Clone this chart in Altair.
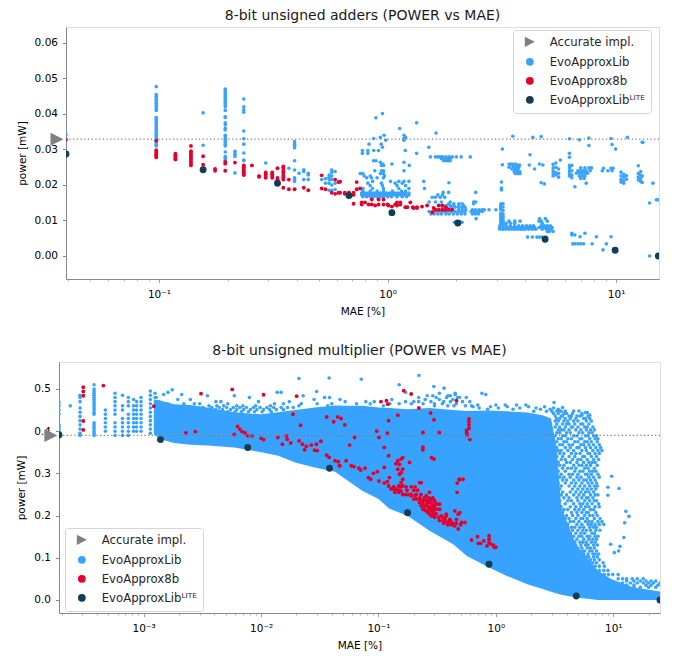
import altair as alt
import pandas as pd

BLUE, RED, NAVY, GRAY = "#38a3ff", "#e4002b", "#133c55", "#808080"
SERIES = ["Accurate impl.", "EvoApproxLib", "EvoApprox8b", "EvoApproxLibᴸᴵᵀᴱ"]

# ---------- adders: (MAE, [powers]) columns and (power, [MAEs]) rows ----------
ADD_BLUE_COLS = [
 (0.0392,[.0342]),
 (0.0973,[.0477,.0455,.045,.0445,.044,.0435,.043,.0425,.042,.0415,.041,.039,.0385,.038,.0375,.037,.0365,.036,.0355,.035,.0345,.034,.0335,.033,.0325,.032,.0315,.031,.0285]),
 (0.156,[.0403,.0312]),
 (0.195,[.047,.0465,.046,.0455,.045,.0445,.044,.0435,.043,.0425,.042,.041,.0392,.039,.0375,.037,.036,.0355,.034,.0335,.033,.0325,.032,.0315,.031,.0293,.028,.0275,.027]),
 (0.215,[.0295,.029,.0285,.028,.0234]),
 (0.235,[.0442,.042,.0412,.0405,.0352,.033,.0315,.029,.027,.0268]),
 (0.293,[.0262]), (0.37,[.0247]),
 (0.392,[.0322,.0315,.031,.0305,.0268,.0242,.022,.0215,.021]),
 (0.41,[.0233]), (0.43,[.0243,.0238,.0215]), (0.45,[.0233,.0228,.0215]),
 (0.515,[.0215]), (0.535,[.0218,.0205]), (0.555,[.0228,.0222,.0215,.0205,.0185]),
 (0.57,[.0242,.0235,.0225,.0215,.02,.0185]), (0.59,[.0238,.0205,.0187]),
 (3.13,[.0147,.0142,.0138,.0134,.013,.012,.0115,.011,.0105,.01,.0095,.009]),
 (3.2,[.0147,.0138,.0128,.0118,.0112,.0105,.0098,.009]),
 (3.15,[.0208,.0191,.0186]), (3.18,[.0257,.0301]), (3.53,[.0337]),
 (6.25,[.033,.0289,.0278,.0255,.0248,.024,.0232,.0225]), (6.4,[.0255,.024,.0228,.022]),
 (5.3,[.0258,.0248,.024,.0232,.0225]), (5.45,[.0262,.025,.0235,.0228]), (5.6,[.0245,.0232,.0222]),
 (10.5,[.0236,.0225,.0215,.0208]), (10.8,[.023,.0222,.0212,.0205]), (11.1,[.0226,.0216]),
 (12.5,[.0254,.0232,.0222,.0214]), (12.8,[.0238,.0228,.0218,.021]), (13,[.0225,.0207]),
]
ADD_BLUE_ROWS = [
 (.0401,[.95]),(.0389,[.889]),(.0375,[1.34]),(.0359,[1.13]),(.0346,[1.63]),
 (.034,[.966,1.18]),(.0334,[.93,1.2]),(.0331,[.87,1.18]),(.0326,[.983,1.18]),
 (.0315,[.938,.83]),(.0306,[.95,1.515]),(.0297,[.776,.82,.87,.913,1.196]),
 (.0289,[.776,.82,1.34]),(.0268,[.868,.89]),(.0264,[.93,1.18]),(.0259,[1.045,.95]),
 (.0255,[.94,.96,1.245]),(.024,[.88,1.18,.96,.94]),(.0232,[.76,.78,.93,.96]),
 (.0225,[.79,.84,.97]),(.022,[.81,.85,.9,.96]),(.021,[.86,1.03,1.12,1.18,1.24,1.44]),
 (.0205,[.82,.94,1.08,1.16]),(.0198,[.84,.95,1.1,1.2]),
 (.019,[.78,.86,.96,1.12,1.24,1.45]),
 (.0183,[.78,.84,.9,.96,1.05,1.15,1.2]),
 (.0177,[.77,.79,.81,.83,.85,.87,.89,.91,.93,.95,.97,.99,1.02,1.05,1.08,1.11,1.14,1.17,1.2,1.24]),
 (.0172,[.77,.79,.81,.83,.85,.87,.89,.91,.93,.95,.97,.99,1.02,1.05,1.08,1.11,1.14,1.17,1.2,1.24]),
 (.0167,[.78,.81,.84,.87,.9,.93,.96,1.0,1.04,1.1,1.16,1.21]),
 (.0206,[1.855]),(.0179,[2.43,1.75,1.85]),(.0172,[1.66,1.74]),(.0165,[1.567,1.62,1.7,1.78]),
 (.0152,[1.52,1.62,1.72,1.88,2.38,2.43]),(.0147,[1.85,1.95,2.05,2.12,2.38]),
 (.0142,[1.75,1.8,1.88,1.95,2.05,2.15]),
 (.0137,[1.75,1.82,1.9,1.98,2.05,2.12,2.18]),
 (.013,[2.05,2.12,2.2,2.35,2.43,2.52,2.6,2.65,2.78,2.98]),
 (.0125,[1.52,1.58,1.64,1.7,1.76,1.82,1.9,1.98,2.05,2.12,2.18,2.32,2.38,2.45,2.52,2.6]),
 (.0118,[1.55,1.6,1.66,1.72,1.8,1.86,1.94,2.02,2.1,2.18,2.35,2.42,2.5]),
 (.0105,[2.44]),(.0095,[1.96,2.0,2.08,2.12]),
 (.0279,[1.54,1.62,1.66,1.7,1.74,1.8,1.86,1.92,2.0,2.1,2.3]),
 (.0274,[1.72,1.76,1.8,1.84,1.88]),(.0268,[1.76,1.8,1.84,1.88]),
 (.0285,[4.2]),(.0259,[3.4,3.5,3.62,4.62]),(.0256,[3.45,3.55,3.7,3.78,4.17,4.78]),
 (.025,[3.4,3.55,3.65,3.75]),(.0245,[3.5,3.62,3.72,4.4]),(.0238,[3.58,3.68,3.78]),
 (.0232,[3.62,3.72,3.8]),(.0334,[4.32]),(.0336,[4.7]),(.0206,[4.7]),(.0203,[4.85]),
 (.0105,[4.62,4.9]),(.0098,[3.4,3.6,3.8,4.6,4.7,5.0]),(.0092,[3.2,3.3,3.45,3.6,4.75]),
 (.0085,[3.1,3.2,3.3,3.45,3.6,3.75,3.9,4.05,4.2,4.35,4.7,4.85,5.0,5.15]),
 (.008,[3.1,3.2,3.3,3.4,3.5,3.6,3.7,3.8,3.9,4.0,4.1,4.2,4.3,4.4,4.6,4.75,4.9,5.05,5.25]),
 (.0075,[3.1,3.2,3.3,3.4,3.5,3.6,3.7,3.8,3.9,4.0,4.15,4.3,4.45,4.75,4.95,5.1,5.2]),
 (.0069,[5.0,5.1,5.3]),(.0053,[4.1,4.3,4.5,4.62,4.75,4.9]),
 (.0327,[6.9]),(.0332,[7.6]),(.0311,[7.6]),(.027,[5.7]),(.0195,[6.6]),(.0205,[7.4,14.5]),
 (.0248,[7.0,7.3,7.6,7.8]),(.024,[6.8,7.0,7.2,7.4,7.7]),(.0233,[6.7,6.9,7.1,7.3,7.5]),
 (.0225,[6.9,7.1,7.3]),(.0218,[7.0,7.25]),
 (.0247,[8.8,9.5,9.7]),(.024,[8.7,9.2,9.6]),(.0331,[9.5]),(.0314,[9.6]),(.0301,[9.95]),
 (.0334,[11.2]),(.032,[13,13.1]),(.0149,[14]),(.0158,[15.3,15.0]),(.0,[14]),
 (.0034,[6.46,6.6,6.8,7.0,7.2,7.85,9.06]),(.0059,[6.4,6.6]),(.0054,[6.95,8.2,9.5]),
 (.0064,[6.4,7.3]),(.0017,[8.76]),
]
ADD_RED_COLS = [
 (0.0392,[.0328]),
 (0.0973,[.0325,.0298,.0293,.0288,.0283,.0278]),
 (0.118,[.0288,.0283,.028,.0275,.0272]),
 (0.138,[.031,.0295,.029,.0285,.028,.0275,.027,.0265,.026,.0255]),
 (0.156,[.0281,.0257]), (0.176,[.0245,.024]), (0.195,[.0265,.026,.024]), (0.215,[.0263]),
 (0.235,[.0255,.025,.0245,.024,.0235,.023,.0228]), (0.255,[.0255]), (0.274,[.0225,.0223]),
 (0.293,[.0235,.023,.0225,.022]), (0.313,[.0235,.023,.0225,.022]), (0.33,[.0247,.022,.0215]),
 (0.35,[.0252,.0248,.024,.0235,.0228,.0222,.0215,.0192]), (0.37,[.0215,.0188]), (0.392,[.0188]),
 (0.43,[.0192]), (0.45,[.0185]), (0.515,[.0227,.019]), (0.535,[.0188]), (0.57,[.0178]),
 (0.59,[.0215,.0175]), (0.61,[.0178,.0208]), (0.62,[.0209,.0178]), (0.65,[.0175,.0178]),
 (0.678,[.0179]), (0.71,[.0178,.0172,.0147]), (0.733,[.0208,.0188]), (0.758,[.019]),
]
ADD_RED_ROWS = [
 (.0159,[.853,.913,.96]),(.0151,[.771,.797,1.1,1.137]),
 (.0145,[.771,.825,.853,.913,.96,1.0,1.08,1.137]),(.0142,[.882,1.01,1.1,1.49]),
 (.0139,[1.045,1.415]),(.0137,[1.196,1.22,1.29,1.345]),(.0135,[1.3,1.345]),
 (.0151,[1.258]),(.0142,[1.673,1.733]),(.0137,[1.8]),
 (.013,[1.62,1.675,1.733,1.794,1.855,1.92]),(.0135,[1.59]),(.0123,[1.57]),
]
ADD_NAVY = ([.0392,.156,.33,.678,1.045,2.03,4.89,9.9,15.3],[.0287,.0243,.0205,.017,.0122,.0093,.0047,.0016,0.0])

# ---------- multiplier ----------
MUL_MASS_MAE = [.00122,.0014,.00181,.0025,.0035,.0059,.01,.014,.0195,.0286,.0427,.056,.0727,.1,.123,.178,.272,.433,.566,.876,1.24,1.85,2.5,2.95,3.3,3.6,4.84,7.4,9.5,14.7,25]
MUL_MASS_LOW = [.392,.381,.372,.368,.366,.3615,.35,.342,.326,.314,.304,.281,.259,.239,.217,.199,.164,.132,.104,.0767,.057,.037,.026,.0195,.0155,.012,.0055,0,0,0,0]
MUL_MASS_TOP = [.475,.472,.464,.462,.456,.445,.44,.445,.45,.456,.461,.46,.46,.456,.455,.452,.455,.45,.448,.449,.447,.444,.438,.43,.36,.22,.13,.07,.05,.03,.02]
MUL_BLUE_COLS = [
 (.00019,[.468,.46,.45,.44,.415,.41,.405,.40,.395]), (.000237,[.46]),
 (.000287,[.485,.48,.47,.455,.445,.435,.425,.415,.405,.395,.39]),
 (.000378,[.51,.5,.495,.49,.485,.48,.475,.47,.465,.46,.455,.45,.445,.44,.42,.415,.41,.405,.40,.395,.39]),
 (.000472,[.45,.44,.43,.42,.41,.40]),
 (.00057,[.49,.48,.47,.46,.45,.44,.42,.41,.40,.39]),
 (.00066,[.485,.46,.45,.43,.42,.41,.40,.39]),
 (.00074,[.48,.47,.46,.44,.43,.42,.41,.40,.39]),
 (.00082,[.475,.46,.45,.44,.43,.42,.41,.40]),
 (.00087,[.47,.46,.45,.44,.43,.42,.41,.40]),
 (.00095,[.48,.47,.46,.45,.44,.43,.42,.41,.40]),
 (.00114,[.495,.485,.475,.465,.455,.445,.435,.425,.415,.405,.395]),
 (.00125,[.49,.48]),
]
MUL_BLUE_ROWS = [
 (.532,[.221]),(.526,[.038]),(.525,[.021]),(.523,[.0714]),(.51,[.15]),(.506,[.296]),(.502,[.362]),
 (.498,[.00175]),(.494,[.0297]),(.492,[.00161,.17,.0137,.0148]),(.49,[.33,.45,.76]),
 (.487,[.00211,.00148,.45,.82]),(.484,[.00349,.00592,.0228,.26,.29,.39,.41]),
 (.48,[.00128,.00795,.0347,.0383,.22,.31,.38,.47,.49,.56]),
 (.475,[.00195,.0025,.0283,.13,.047,.25,.33,.43]),
 (.47,[.00135,.00412,.00455,.0174,.0095,.052,.078,.092,.17,.2,.22,.28,.36,.41,.52,.6]),
 (.465,[.0016,.0022,.0027,.003,.0052,.013,.0155,.022,.03,.04,.065,.085,.125,.15,.19,.24,.3,.35,.46]),
 (.46,[.0036,.0042,.0048,.0062,.007,.009,.012,.021,.037,.11,.3,.39,.44,.55,.62]),
 (.456,[.0032,.0038,.0044,.0051,.0058,.0066,.0075,.0086,.0098,.0112,.0128,.0148,.0168,.0188]),
 (.451,[.0041,.0047,.0055,.0062,.0071,.0081,.0092,.0105,.0118,.0135,.0155]),
 (.446,[.0052,.006,.0068,.0078,.0088,.0102,.0122]),
 (.462,[.7,1.0,1.2,1.5,1.8]),(.458,[.64,.9,1.25,1.9,2.6]),(.455,[.72,1.05,1.6,2.2,3.1]),
 (.452,[.85,1.4,2.4,2.9,3.4]),(.447,[2.1,2.7,3.0,3.6]),
 (.468,[3.13]),(.456,[3.7]),(.444,[5.8,6.0]),(.438,[5.4,6.3]),
 (.448,[3.3,3.5,3.9,4.6,5.1]),(.442,[3.1,3.4,3.8,4.0,4.5,5.4]),
 (.436,[3.2,3.6,3.7,4.2,4.4,4.9,5.2,6.1]),(.43,[3.3,3.5,3.9,4.3,4.8,5.6,5.8,6.3]),
 (.424,[3.2,3.4,3.8,4.1,4.6,5.0,5.9,6.5]),(.417,[3.3,3.7,4.0,4.2,4.7,5.3,5.5,6.2]),
 (.41,[3.2,3.5,3.9,4.4,4.5,5.0,5.7,6.0,6.7]),(.403,[3.4,3.6,3.8,4.2,4.8,5.3,5.9,6.4,6.9]),
 (.396,[3.3,3.5,4.0,4.3,5.1,5.5,6.2,6.6]),(.389,[3.2,3.7,3.9,4.6,4.9,5.8,6.1,6.8,7.2]),
 (.382,[3.4,3.6,4.1,4.4,5.2,5.4,6.3,7.0,7.4]),(.375,[3.3,3.8,4.0,4.7,5.0,5.7,6.0,6.5,7.3]),
 (.368,[3.5,3.7,4.2,4.5,5.3,5.6,6.2,6.8,7.6]),(.361,[3.3,3.9,4.3,4.9,5.1,5.8,6.4,7.1,7.8]),
 (.354,[3.4,3.6,4.1,4.6,5.4,5.9,6.7,7.4,8.0]),(.347,[3.5,3.8,4.4,4.8,5.2,6.1,6.3,7.0,7.6]),
 (.34,[3.3,3.7,4.2,4.7,5.5,5.7,6.5,7.2]),(.333,[3.6,3.9,4.5,5.0,5.3,6.0,6.8,7.5]),
 (.326,[3.4,4.0,4.3,4.9,5.6,6.2,6.6,7.0]),(.319,[3.5,3.8,4.6,5.1,5.4,5.9,6.4,7.3]),
 (.312,[3.7,4.1,4.4,4.8,5.7,6.1,6.9]),(.305,[3.4,3.9,4.7,5.2,5.5,6.3,6.7,7.1]),
 (.298,[3.6,4.2,4.5,5.0,5.8,6.0,6.5,7.4]),(.291,[3.5,3.8,4.3,4.9,5.3,6.2,6.8,7.6]),
 (.284,[3.7,4.0,4.6,5.1,5.6,5.9,6.4,7.0]),(.277,[3.4,3.9,4.4,4.8,5.4,6.1,6.6,7.2]),
 (.27,[3.6,4.2,4.7,5.2,5.7,6.3,6.9,7.3]),(.263,[3.5,4.5,5.0,5.5,6.0,6.5,7.1]),
 (.256,[3.7,4.3,4.8,5.3,5.8,6.2,6.8]),(.249,[3.6,4.0,4.6,5.1,5.6,6.4,7.0,7.4]),
 (.242,[3.8,4.2,4.9,5.4,5.9,6.1,6.7]),(.235,[3.5,4.1,4.4,5.0,5.7,6.3,6.9,7.2]),
 (.228,[3.9,4.6,5.2,5.5,6.0,6.6,7.5]),(.221,[3.6,4.3,4.8,5.3,5.8,6.2,7.0,7.6]),
 (.214,[3.8,4.1,4.7,5.1,5.6,6.4,6.8]),(.207,[3.7,4.4,4.9,5.4,5.9,6.1,7.1]),
 (.2,[3.6,4.0,4.5,5.0,5.7,6.3,6.7,7.3]),(.193,[3.9,4.2,4.8,5.3,5.5,6.0,6.9,7.7]),
 (.186,[3.7,4.3,4.6,5.1,5.8,6.2,6.6,7.4,8.0]),(.179,[3.8,4.1,4.9,5.4,6.1,6.5,7.0,7.6,8.3]),
 (.172,[3.9,4.4,4.7,5.2,5.6,6.3,6.8,7.2]),(.165,[4.0,4.5,5.0,5.5,5.9,6.4,7.1,7.7]),
 (.158,[3.9,4.3,4.8,5.3,5.7,6.6,6.9]),(.151,[4.1,4.6,5.1,5.4,6.0,6.3,7.0,7.4]),
 (.144,[4.0,4.4,4.9,5.6,6.2,6.7,7.2]),(.137,[4.2,4.7,5.2,5.5,5.9,6.5,7.0]),
 (.13,[4.4,4.8,5.3,5.8,6.1,6.8,7.3]),(.123,[4.6,5.0,5.4,6.0,6.4,6.9]),
 (.116,[5.1,5.5,5.7,6.3,6.6,7.2]),(.109,[5.2,5.6,6.1,6.7,7.0,7.5]),
 (.102,[5.4,5.9,6.2,6.8,7.3]),(.095,[5.8,6.4,6.9,7.6]),(.088,[6.3,6.7,7.2,8.2]),
 (.08,[7.0,7.6,8.4]),(.07,[7.6,8.3,9.0]),(.06,[8.4,9.1,9.9,11]),
 (.05,[11,12,13,14.5,16,18]),(.045,[13,15,17,19,21,23]),(.04,[12,14,16,18,20,22,25]),
 (.035,[11,13,15,19,21,24]),(.03,[15,17,20,23]),
 (.21,[12.8]),(.198,[13.6]),(.183,[12.5]),(.148,[12.3]),(.127,[11.4]),(.132,[9.5]),
 (.112,[10.2]),(.116,[11.1]),(.293,[9.7]),(.264,[11.2]),(.267,[9.0]),(.248,[9.0]),
]
MUL_RED_COLS = [
 (.000306,[.504,.494,.484,.424,.403]), (.59,[.429,.422,.415,.407]), (.563,[.402,.396]),
 (.57,[.391]), (.6,[.38]), (.875,[.152,.144,.136]), (.239,[.362,.356,.397]),
]
MUL_RED_ROWS = [
 (.508,[.000454]),(.459,[.00122]),(.396,[.00229,.0073]),(.399,[.00276,.0069]),(.489,[.00308]),
 (.499,[.00568]),(.392,[.0059]),(.411,[.00631]),(.405,[.00658]),(.389,[.0077,.0084,.0164]),
 (.383,[.01]),(.38,[.0105]),(.4865,[.0105]),(.385,[.0139,.0626,.101]),(.369,[.0152,.0225,.0296]),
 (.381,[.0167]),(.372,[.0179]),(.44,[.0187]),(.483,[.0201]),(.414,[.0217]),(.377,[.0211]),
 (.356,[.0235]),(.364,[.0243]),(.367,[.0268,.0567]),(.355,[.0286]),(.354,[.0301]),(.376,[.0323]),
 (.4335,[.0362,.045]),(.343,[.0362]),(.338,[.038]),(.4225,[.0415]),(.33,[.0427,.053]),
 (.3275,[.0455]),(.43,[.048]),(.318,[.0465,.0468,.0586]),(.415,[.0517]),(.316,[.0618]),
 (.312,[.0682]),(.308,[.0705]),(.3125,[.0768]),(.29,[.082]),(.286,[.0859]),(.3,[.0906]),
 (.4,[.0967]),(.304,[.098]),(.282,[.101]),(.47,[.105]),(.3615,[.112]),(.314,[.112]),(.277,[.112]),
 (.472,[.117,.462]),(.464,[.12]),(.425,[.122]),(.3955,[.119]),(.342,[.122]),
 (.28,[.119]),(.29,[.124]),(.27,[.122,.149,.161]),(.263,[.128,.135,.141]),(.255,[.138,.149,.468]),
 (.438,[.146]),(.323,[.141]),(.33,[.146]),(.334,[.156,.297]),(.337,[.161,.283]),(.321,[.151]),
 (.31,[.146]),(.298,[.151]),(.302,[.156]),(.31,[.161]),(.326,[.184]),
 (.278,[.156,.224]),(.286,[.161,.488]),(.258,[.156]),(.25,[.161,.168,.178]),(.247,[.19]),
 (.278,[.231]),(.239,[.2,.224,.211]),(.247,[.205]),(.496,[.164]),(.488,[.19]),(.455,[.221]),
 (.443,[.278]),(.427,[.297]),(.397,[.33]),
 (.231,[.224,.264]),(.223,[.231,.255,.291]),(.235,[.239,.301]),(.215,[.239,.282,.311,.332]),
 (.247,[.255]),(.255,[.272]),(.219,[.272]),(.239,[.282]),(.207,[.264]),(.227,[.321,.332]),
 (.203,[.301,.378]),(.199,[.282,.343]),(.1875,[.355]),(.195,[.367]),(.199,[.378]),
 (.1835,[.392]),(.191,[.405]),(.18,[.418]),(.1755,[.447]),(.168,[.478]),(.211,[.447]),
 (.203,[.478]),(.191,[.462]),(.1835,[.51]),(.1835,[.545]),(.207,[.494]),
 (.277,[.468]),(.285,[.488]),(.286,[.525]),
 (.142,[.62]),(.15,[.698]),(.134,[.71,.74]),(.14,[.79]),(.128,[.84]),(.133,[.9]),(.13,[.95]),
 (.125,[.97,1.0]),
 (.242,[.225,.245,.268,.29]),(.236,[.255,.275,.296]),(.228,[.24,.26,.282,.305]),
 (.22,[.245,.268,.3]),(.212,[.25,.262,.278,.295]),(.204,[.27,.288,.31]),(.196,[.3,.325,.35]),
 (.188,[.33,.37,.41]),(.182,[.36,.43,.46]),(.178,[.39,.42,.5]),
 (.268,[.135,.155,.172,.19,.205]),(.26,[.15,.175,.2,.215]),(.25,[.19,.21,.23]),
]
MUL_NAVY = ([.00019,.00139,.0077,.0383,.177,.874,4.84,25],[.391,.38,.3615,.312,.2065,.0847,.0095,0.0])

ADD_REF_POWER, MUL_REF_POWER = 0.0329, 0.39
ADD_REF_MARK_MAE, MUL_REF_MARK_MAE = 0.0358, 0.000162
MARK_SIZES = [100, 13, 15, 48]
TRIANGLE = "M-1.3,-1.3L1.3,0L-1.3,1.3Z"


def expand(cols, rows, name):
    out = []
    for m, ps in cols:
        out += [{"mae": m, "power": p, "s": name} for p in ps]
    for p, ms in rows:
        out += [{"mae": m, "power": p, "s": name} for m in ms]
    return out


def panel(title, df, ref, xdom, ydom, w, h, xvals, yvals, yfmt, lx, ly, mass=None):
    x_scale = alt.Scale(type="log", domain=xdom, nice=False)
    y_scale = alt.Scale(domain=ydom, nice=False, zero=False)
    major = "datum.value==0.001||datum.value==0.01||datum.value==0.1||datum.value==1||datum.value==10"
    x_axis = alt.Axis(
        title="MAE [%]", values=xvals, labelOverlap=False, labelBound=False, labelFlush=False, grid=False,
        titleFontWeight="normal", labelFontSize=10.5, titleFontSize=10.5, titlePadding=6, labelPadding=7,
        labelExpr="datum.value==0.001?'10⁻³':datum.value==0.01?'10⁻²':datum.value==0.1?'10⁻¹':datum.value==1?'10⁰':datum.value==10?'10¹':''",
        tickSize={"condition": {"test": major, "value": 3.5}, "value": 2},
        tickWidth={"condition": {"test": major, "value": 0.8}, "value": 0.6},
    )
    y_axis = alt.Axis(title="power [mW]", values=yvals, format=yfmt, grid=False, titleFontWeight="normal",
                      labelFontSize=10.5, titleFontSize=10.5, titlePadding=7, labelPadding=5, tickSize=3.5)
    enc = dict(
        x=alt.X("mae:Q", scale=x_scale, axis=x_axis),
        y=alt.Y("power:Q", scale=y_scale, axis=y_axis),
        color=alt.Color("s:N", scale=alt.Scale(domain=SERIES, range=[GRAY, BLUE, RED, NAVY]),
                        sort=SERIES,
                        legend=alt.Legend(
                            title=None, orient="none", legendX=lx, legendY=ly, symbolSize=60,
                            fillColor="#ffffff", strokeColor="#d5d5d5", cornerRadius=3, padding=6,
                            labelFontSize=11.7, labelColor="#262626", labelOffset=14, rowPadding=4,
                            symbolOffset=5, symbolOpacity=1, offset=0)),
        shape=alt.Shape("s:N", scale=alt.Scale(domain=SERIES, range=[TRIANGLE, "circle", "circle", "circle"]),
                        sort=SERIES, legend=alt.Legend(title=None)),
    )
    layers = []
    if mass is not None:
        layers.append(alt.Chart(mass).mark_area(color=BLUE, opacity=1, clip=True, line=False).encode(
            x=alt.X("mae:Q", scale=x_scale, axis=x_axis),
            y=alt.Y("low:Q", scale=y_scale, axis=y_axis),
            y2="top:Q"))
    for i in (1, 2):
        layers.append(alt.Chart(df[df.s == SERIES[i]]).mark_point(
            filled=True, opacity=1, clip=True, strokeWidth=0, size=MARK_SIZES[i]).encode(**enc))
    layers.append(alt.Chart(pd.DataFrame({"p": [ref]})).mark_rule(color=GRAY, strokeDash=[1.3, 2.4], strokeWidth=1.3).encode(
        y=alt.Y("p:Q", scale=y_scale, axis=y_axis)))
    layers.append(alt.Chart(df[df.s == SERIES[3]]).mark_point(
        filled=True, opacity=1, clip=True, strokeWidth=0, size=MARK_SIZES[3]).encode(**enc))
    layers.append(alt.Chart(df[df.s == SERIES[0]]).mark_point(
        filled=True, opacity=1, strokeWidth=0, size=MARK_SIZES[0]).encode(**enc))
    return alt.layer(*layers).properties(
        width=w, height=h,
        title=alt.TitleParams(title, fontSize=14, fontWeight="normal", color="#1a1a1a", offset=4),
    )


def series_frame(blue, red, navy, ref, ref_mae):
    rows = [{"mae": ref_mae, "power": ref, "s": SERIES[0]}] + blue + red
    rows += [{"mae": m, "power": p, "s": SERIES[3]} for m, p in zip(*navy)]
    return pd.DataFrame(rows)


add_df = series_frame(expand(ADD_BLUE_COLS, ADD_BLUE_ROWS, SERIES[1]), expand(ADD_RED_COLS, ADD_RED_ROWS, SERIES[2]),
                      ADD_NAVY, ADD_REF_POWER, ADD_REF_MARK_MAE)
mul_df = series_frame(expand(MUL_BLUE_COLS, MUL_BLUE_ROWS, SERIES[1]), expand(MUL_RED_COLS, MUL_RED_ROWS, SERIES[2]),
                      MUL_NAVY, MUL_REF_POWER, MUL_REF_MARK_MAE)
mass = pd.DataFrame({"mae": MUL_MASS_MAE, "low": MUL_MASS_LOW, "top": MUL_MASS_TOP})

ADD_X_TICKS = [.04,.05,.06,.07,.08,.09,.1,.2,.3,.4,.5,.6,.7,.8,.9,1,2,3,4,5,6,7,8,9,10]
MUL_X_TICKS = [.0002,.0003,.0004,.0005,.0006,.0007,.0008,.0009,.001,.002,.003,.004,.005,.006,.007,.008,.009,
               .01,.02,.03,.04,.05,.06,.07,.08,.09,.1,.2,.3,.4,.5,.6,.7,.8,.9,1,2,3,4,5,6,7,8,9,10,20]

top = panel("8-bit unsigned adders (POWER vs MAE)", add_df, ADD_REF_POWER,
            [0.0392, 15.4], [-0.0065, 0.0645], 593, 252, ADD_X_TICKS,
            [0, .01, .02, .03, .04, .05, .06], ".2f", 447, 3)
bottom = panel("8-bit unsigned multiplier (POWER vs MAE)", mul_df, MUL_REF_POWER,
               [0.00019, 25], [-0.031, 0.564], 601, 251, MUL_X_TICKS,
               [0, .1, .2, .3, .4, .5], ".1f", 6, 166, mass=mass)


def spacer():
    # Empty 1px cell: keeps the y-axis titles of both rows flush, as in the reference.
    return alt.Chart(pd.DataFrame({"a": [0]})).mark_point(opacity=0).encode(
        x=alt.value(0), y=alt.value(0)
    ).properties(width=1, height=1, view=alt.ViewConfig(fill="transparent", stroke="transparent"))


chart = alt.vconcat(
    alt.hconcat(spacer(), top, spacing=0).resolve_scale(color="independent", shape="independent", x="independent", y="independent"),
    alt.hconcat(spacer(), bottom, spacing=0).resolve_scale(color="independent", shape="independent", x="independent", y="independent"),
    spacing=26,
).resolve_scale(
    color="independent", shape="independent", x="independent", y="independent"
).properties(
    padding={"left": 0, "top": 0, "right": 0, "bottom": 0},
).configure_view(fill="#f8fafd", stroke=None).configure_axis(
    domainColor="#262626", tickColor="#262626", labelColor="#262626", titleColor="#262626",
    labelFont="DejaVu Sans", titleFont="DejaVu Sans", domainWidth=1,
).configure_title(font="DejaVu Sans").configure_legend(
    labelFont="DejaVu Sans").configure(font="DejaVu Sans")

chart.save("out.html", embed_options={"renderer": "svg", "actions": False})
